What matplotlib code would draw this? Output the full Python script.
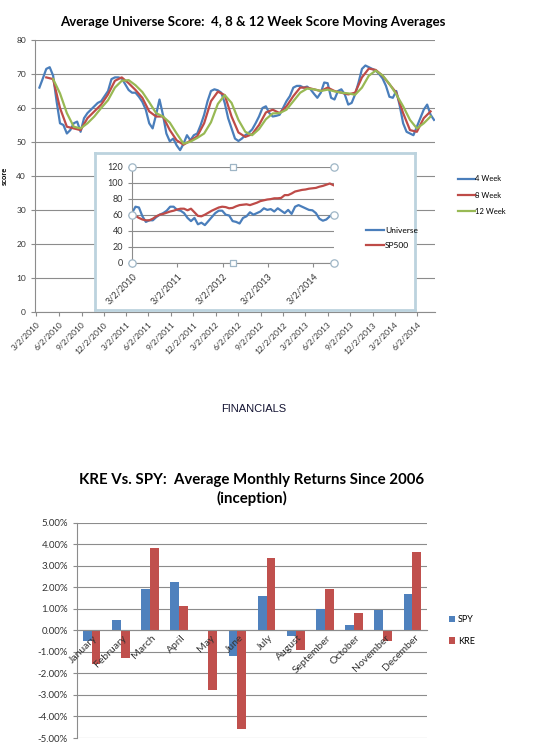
import numpy as np
import pandas as pd
import matplotlib
matplotlib.use('Agg')
import matplotlib.pyplot as plt

plt.rcParams['font.family'] = ['Lato', 'DejaVu Sans']

#### data ####
# 4 week average, one reading every 2 weeks from 2010-03-14
week4 = [66, 68.7, 71.5, 72, 69.5, 62, 55.5, 55, 52.5, 53.5, 55.5, 56, 53, 57, 58.5, 59.5,
         60.5, 61.5, 62, 63.5, 65, 68.5, 69, 69, 68.7, 67, 65.3, 64.5, 64.5, 63.3, 61.8, 59.5,
         55.5, 54, 58, 62.5, 58, 52.5, 50.2, 51, 49, 47.6, 49.5, 52, 50.5, 52, 52.5, 55,
         58, 62, 65, 65.5, 65.2, 64.5, 61.5, 57, 54, 51, 50.3, 51, 52, 52.7, 53.7, 55.5,
         57.5, 60, 60.5, 58.5, 57.5, 57.7, 58, 60, 62, 63.5, 66, 66.5, 66.5, 66, 66.3, 65.5,
         64.2, 63, 64.5, 67.5, 67.3, 63, 62.5, 65, 65.5, 64, 61, 61.5, 64, 67.5, 71.5, 72.5,
         72, 71.5, 71, 70, 68.7, 66.5, 63.3, 63, 65, 60.7, 55.5, 53, 52.5, 52, 54.5, 57,
         59.5, 61, 58, 56.5]
# 8 week average, one reading every 4 weeks from 2010-04-11
week8 = [69, 68.5, 60, 54.5, 54, 53.5, 57, 59, 61, 64, 68, 69, 67.3, 65.3, 63, 59, 57.5,
         57.5, 53.5, 50.5, 49.2, 50.4, 51.7, 55.5, 62, 64.8, 63.8, 57.5, 52.8, 51.5, 52.3,
         55, 58.7, 59.5, 58.5, 60.5, 63.5, 66, 66, 65.5, 65, 66, 65, 64.5, 64, 64.5, 69,
         71.6, 71.2, 69.5, 67, 64.5, 58.5, 53.5, 53, 57, 59]
# 12 week average, one reading every 4 weeks from 2010-05-09
week12 = [68.5, 64.3, 58.5, 54.5, 54, 55.5, 57.5, 60, 62.3, 66, 68, 68.2, 66.7, 64.7, 61.7,
          58.5, 57.5, 55.7, 52.5, 49.5, 50.1, 51.2, 52.5, 55.8, 61.2, 63.8, 61.5, 56.5, 53,
          52, 53.8, 56.7, 58.4, 58.5, 59.5, 62, 64.5, 65.7, 65.5, 65, 65.4, 64.9, 64.5, 64.3,
          63.9, 66, 69.5, 71, 69.6, 67.1, 64, 60.5, 56.5, 54, 55.5, 57.5]
# inset chart, one reading every 4 weeks from 2010-03-02
universe = [62, 70, 69, 58, 51, 53, 53, 57, 60, 62, 65, 70, 70, 66, 65, 62, 56, 52, 56, 48,
            50, 47, 52, 57, 62, 65, 65, 60, 59, 52, 51, 49, 56, 58, 63, 60, 62, 64, 68, 66,
            67, 64, 68, 65, 62, 66, 61, 70, 72, 70, 68, 66, 65.5, 62, 55, 52.5, 54, 58, 61]
sp500 = [60, 58.5, 56, 54, 53, 53, 55, 58, 60, 61, 62.5, 64, 65, 66.5, 67.5, 67.5, 65.5,
         67.5, 63, 58.5, 58, 60, 62.5, 65, 67, 69, 70, 69.5, 68, 68.5, 70.5, 72, 72.5, 73,
         72, 73.5, 75, 77, 78, 79, 79.5, 80.5, 80.5, 81, 84.5, 84.5, 86.5, 89, 90, 91, 91.5,
         92.5, 93, 93.5, 95, 96, 97.5, 99, 97]

months = ['January', 'February', 'March', 'April', 'May', 'June', 'July', 'August',
          'September', 'October', 'November', 'December']
spy = [-0.51, 0.50, 1.93, 2.23, -0.05, -1.17, 1.58, -0.25, 1.00, 0.25, 0.93, 1.70]
kre = [-1.55, -1.28, 3.82, 1.11, -2.78, -4.56, 3.35, -0.93, 1.93, 0.80, -0.51, 3.65]

d4 = pd.date_range('2010-03-14', periods=len(week4), freq='14D')
d8 = pd.date_range('2010-04-11', periods=len(week8), freq='28D')
d12 = pd.date_range('2010-05-09', periods=len(week12), freq='28D')
dins = pd.date_range('2010-03-02', periods=len(universe), freq='28D')

BLUE = '#4a7ebb'
RED = '#be4b48'
GREEN = '#98b954'
GRID = '#8c8c8c'

W, H = 544, 742
fig = plt.figure(figsize=(W / 100, H / 100), dpi=100)


def box(x0, y0, x1, y1):
    # pixel box -> figure fraction
    return [x0 / W, 1 - y1 / H, (x1 - x0) / W, (y1 - y0) / H]


def style_axes(ax, fs):
    for s in ['top', 'right']:
        ax.spines[s].set_visible(False)
    ax.spines['left'].set_color(GRID)
    ax.spines['bottom'].set_color(GRID)
    ax.grid(axis='y', color=GRID, linewidth=0.8)
    ax.set_axisbelow(True)
    ax.tick_params(labelsize=fs, colors='#333333', length=3, color=GRID)


def date_labels(dates):
    return [f'{t.month}/{t.day}/{t.year}' for t in dates]


### top chart ###
ax = fig.add_axes(box(35, 40, 435, 312))
ax.plot(d4, week4, color=BLUE, lw=1.6, label='4 Week')
ax.plot(d8, week8, color=RED, lw=1.6, label='8 Week')
ax.plot(d12, week12, color=GREEN, lw=1.6, label='12 Week')
style_axes(ax, 6)
ax.set_ylim(0, 80)
ax.set_yticks(range(0, 81, 10))
ax.set_xlim(pd.Timestamp('2010-02-24'), pd.Timestamp('2014-08-14'))
ticks = pd.date_range('2010-03-01', '2014-06-01', freq='3MS') + pd.Timedelta(days=1)
ax.set_xticks(ticks)
ax.set_xticklabels(date_labels(ticks), rotation=45,
                   ha='right', va='top', rotation_mode='anchor', fontsize=6)
ax.set_ylabel('score', fontsize=5.5, fontweight='bold', labelpad=6)
ax.set_title('Average Universe Score:  4, 8 & 12 Week Score Moving Averages',
             fontsize=9.5, fontweight='bold', pad=10, x=0.545)
ax.legend(loc='center left', bbox_to_anchor=(1.04, 0.43), frameon=False, fontsize=5.5,
          handlelength=2.2, handletextpad=0.1, labelspacing=1.2)

### inset chart in a selected frame ###
frame = fig.add_axes(box(95, 153, 415, 310))
frame.set_xticks([])
frame.set_yticks([])
for s in frame.spines.values():
    s.set_color('#bcd3de')
    s.set_linewidth(2)
frame.set_facecolor('white')

axi = fig.add_axes(box(132, 166.7, 334, 262.7))
axi.plot(dins, universe, color=BLUE, lw=1.6, label='Universe')
axi.plot(dins, sp500, color=RED, lw=1.6, label='SP500')
style_axes(axi, 6.5)
axi.set_ylim(0, 120)
axi.set_yticks(range(0, 121, 20))
axi.set_xlim(pd.Timestamp('2010-03-02'), pd.Timestamp('2014-08-18'))
yt = pd.date_range('2010-03-01', '2014-03-01', freq='12MS') + pd.Timedelta(days=1)
axi.set_xticks(yt)
axi.set_xticklabels(date_labels(yt), rotation=45,
                    ha='right', va='top', rotation_mode='anchor', fontsize=6.5)
axi.legend(loc='center left', bbox_to_anchor=(1.12, 0.26), frameon=False, fontsize=6,
           handlelength=2.2, handletextpad=0.1, labelspacing=1.0)
# plot area selection handles
hx = [0, 1, 0, 1, 0, 1]
hy = [0, 0, 1, 1, 0.5, 0.5]
axi.scatter(hx, hy, s=28, marker='o', facecolor='white', edgecolor='#9fb6c6', lw=0.9,
            transform=axi.transAxes, clip_on=False, zorder=5)
axi.scatter([0.5, 0.5], [0, 1], s=22, marker='s', facecolor='white', edgecolor='#9fb6c6',
            lw=0.9, transform=axi.transAxes, clip_on=False, zorder=5)

fig.text(254 / W, 1 - 409 / H, 'FINANCIALS', ha='center', va='center', fontsize=8,
         color='#141433', family=['Liberation Sans', 'DejaVu Sans'])

### bottom chart ###
axb = fig.add_axes(box(77, 522.7, 427, 738))
x = np.arange(len(months))
axb.bar(x - 0.15, spy, width=0.3, color='#4f81bd', label='SPY')
axb.bar(x + 0.15, kre, width=0.3, color='#c0504d', label='KRE')
style_axes(axb, 7)
axb.xaxis.set_zorder(5)   # month names sit over the bars
axb.set_ylim(-5, 5)
axb.set_yticks(range(-5, 6))
axb.set_yticklabels([f'{v:.2f}%' for v in range(-5, 6)])
axb.set_xlim(-0.5, 11.5)
axb.spines['bottom'].set_position(('data', 0))
axb.set_xticks(x + 0.05)
axb.set_xticklabels(months, rotation=45, ha='right', va='top', rotation_mode='anchor',
                    fontsize=7.5)
axb.tick_params(axis='x', length=0, pad=2)
axb.set_title('KRE Vs. SPY:  Average Monthly Returns Since 2006\n(inception)',
              fontsize=10.8, fontweight='bold', pad=14, x=0.5, linespacing=1.35)
axb.legend(loc='center left', bbox_to_anchor=(1.04, 0.5), frameon=False, fontsize=6.5,
           handlelength=0.7, handleheight=0.7, handletextpad=0.3, labelspacing=1.4)

fig.savefig('out.png', dpi=100)
